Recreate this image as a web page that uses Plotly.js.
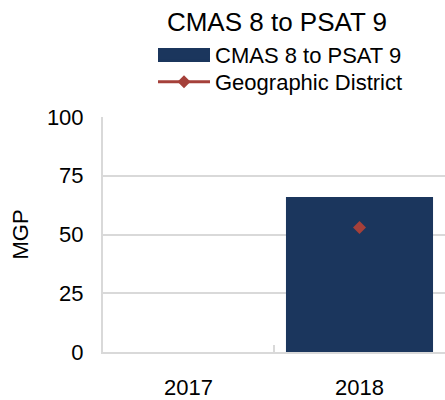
<!DOCTYPE html>
<html>
<head>
<meta charset="utf-8">
<script src="https://cdn.plot.ly/plotly-3.0.1.min.js"></script>
<style>html,body{margin:0;padding:0;background:#fff;}#chart{width:445px;height:400px;}</style>
</head>
<body>
<div id="chart"></div>
<script>
const years = ['2017', '2018'];
const schoolMGP = [null, 66];
const districtMGP = [null, 53];
const yTicks = [0, 25, 50, 75, 100];
const seriesName = 'CMAS 8 to PSAT 9';
const districtName = 'Geographic District';
const chartTitle = 'CMAS 8 to PSAT 9';
const yTitle = 'MGP';

const FONT = '"Liberation Sans", Arial, sans-serif';
const NAVY = '#1b365d';
const RED = '#a5403a';
const GRID = '#d9d9d9';

const W = 445, H = 400, ML = 103, MR = 0, MT = 117, MB = 48;
const PW = W - ML - MR, PH = H - MT - MB;
const px2x = p => (p - ML) / PW;
const py2y = p => (H - MB - p) / PH;

const traces = [
  {
    type: 'bar', x: years, y: schoolMGP, name: seriesName,
    marker: {color: NAVY}, width: 0.86, showlegend: false, legendgroup: 'a',
    hoverinfo: 'x+y'
  },
  {
    type: 'scatter', mode: 'lines', x: [null], y: [null], name: seriesName,
    line: {color: NAVY, width: 14}, legendgroup: 'a', hoverinfo: 'skip', legend: 'legend'
  },
  {
    type: 'scatter', mode: 'lines+markers', x: years, y: districtMGP, name: districtName,
    line: {color: RED, width: 3}, marker: {symbol: 'diamond', size: 10, color: RED},
    connectgaps: false, legend: 'legend2'
  }
];

const legendBase = {
  orientation: 'v', xref: 'container', yref: 'container',
  x: 153/W, xanchor: 'left', yanchor: 'middle',
  font: {family: FONT, size: 22, color: '#000'},
  itemwidth: 52, bgcolor: 'rgba(0,0,0,0)'
};

const layout = {
  width: W, height: H,
  margin: {l: ML, r: MR, t: MT, b: MB, autoexpand: false},
  paper_bgcolor: '#fff', plot_bgcolor: '#fff',
  font: {family: FONT, size: 22, color: '#000'},
  title: {text: chartTitle, font: {family: FONT, size: 26, color: '#000'},
          x: 277/W, xanchor: 'center', xref: 'container', y: 1 - 22/H, yanchor: 'middle', yref: 'container'},
  showlegend: true,
  legend: Object.assign({}, legendBase, {y: 1 - 55/H}),
  legend2: Object.assign({}, legendBase, {y: 1 - 82/H}),
  xaxis: {
    type: 'category', categoryarray: years, range: [-0.5, 1.5],
    showgrid: false, showline: true, linecolor: GRID, linewidth: 2,
    tickson: 'boundaries', ticks: 'inside', ticklen: 7, tickcolor: GRID, tickwidth: 2,
    tickangle: 0, ticklabelstandoff: 15,
    tickfont: {family: FONT, size: 22, color: '#000'}, fixedrange: true
  },
  yaxis: {
    range: [0, 100], tickvals: yTicks, showgrid: true, gridcolor: GRID, gridwidth: 2,
    showline: true, linecolor: GRID, linewidth: 2, zeroline: false,
    ticks: 'outside', ticklen: 13, tickcolor: 'rgba(0,0,0,0)',
    tickfont: {family: FONT, size: 22, color: '#000'},
    fixedrange: true
  },
  annotations: [{
    text: yTitle, textangle: -90, showarrow: false,
    xref: 'paper', yref: 'paper', x: px2x(20), y: 0.5, xanchor: 'center', yanchor: 'middle',
    font: {family: FONT, size: 22, color: '#000'}
  }],
  shapes: [{
    type: 'rect', xref: 'paper', yref: 'paper', layer: 'above',
    x0: px2x(158), x1: px2x(210), y0: py2y(62), y1: py2y(48),
    fillcolor: NAVY, line: {width: 0}
  }],
  bargap: 0.14
};

Plotly.newPlot('chart', traces, layout, {displayModeBar: false, staticPlot: true});
</script>
</body>
</html>
